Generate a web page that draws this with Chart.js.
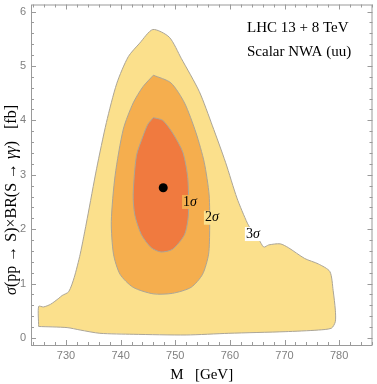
<!DOCTYPE html>
<html>
<head>
<meta charset="utf-8">
<script src="https://cdn.jsdelivr.net/npm/chart.js@4.4.1/dist/chart.umd.min.js"></script>
<style>
  html, body { margin: 0; padding: 0; background: #fff; }
</style>
</head>
<body>
<canvas id="chart" width="377" height="384"></canvas>
<script>
// 3 sigma contour (outer)
const outerM = [725, 725, 725.9, 727.2, 728.7, 729.3, 730.5, 731.5, 732.6, 733.9, 735.6, 737.4, 739.3, 741.4, 743.5, 745.9, 748.9, 751.1, 754.4, 756.8, 759.2, 761.3, 763.2, 764.1, 765.3, 766.2, 767.1, 769.2, 770.7, 773.7, 776.2, 778.3, 778.9, 779.3, 779.3, 778.6, 776.2, 770.1, 759.8, 752, 742.3, 736.2, 732.6, 730.2, 725];
const outerS = [0.21, 0.58, 0.57, 0.62, 0.73, 0.78, 0.85, 1.11, 1.54, 2.20, 3.11, 3.96, 4.68, 5.17, 5.42, 5.67, 5.53, 5.14, 4.53, 3.90, 3.23, 2.57, 2.11, 1.96, 1.81, 1.67, 1.71, 1.73, 1.66, 1.46, 1.36, 1.22, 0.87, 0.51, 0.30, 0.18, 0.145, 0.115, 0.085, 0.054, 0.067, 0.085, 0.145, 0.19, 0.21];

// 2 sigma contour
const twoM = [746, 749.2, 751.7, 753.8, 755.3, 756.2, 756.3, 756.1, 755, 752.9, 749.5, 746, 742.3, 739.9, 738.7, 738.3, 739, 740.5, 742.3, 744.1, 746];
const twoS = [4.83, 4.69, 4.32, 3.77, 3.23, 2.63, 2.02, 1.54, 1.17, 0.93, 0.82, 0.81, 0.93, 1.17, 1.54, 2.14, 2.99, 3.84, 4.32, 4.62, 4.83];

// 1 sigma contour
const oneM = [746, 747.7, 749.5, 751.4, 752.3, 752.4, 751.7, 749.5, 747.4, 745.6, 743.8, 742.6, 742.3, 742.9, 744.1, 745, 746];
const oneS = [4.05, 4.0, 3.77, 3.41, 2.93, 2.26, 1.90, 1.63, 1.58, 1.66, 1.90, 2.26, 2.63, 3.35, 3.71, 3.93, 4.05];

// best fit point
const bestM = [747.8];
const bestS = [2.76];

// contour labels
const labelText = ['1', '2', '3'];
const labelM = [752.7, 756.7, 764.2];
const labelS = [2.50, 2.21, 1.91];

const xTicks = [730, 740, 750, 760, 770, 780];
const yTicks = [0, 1, 2, 3, 4, 5, 6];

const COL_OUTER = '#FBE08C';
const COL_TWO = '#F5AE4E';
const COL_ONE = '#F07A3F';
const COL_EDGE = '#ABA597';
const labelBg = [COL_TWO, COL_OUTER, '#ffffff'];

const toXY = (ms, ss) => ms.map((m, i) => ({ x: m, y: ss[i] }));

function contour(data, color, order) {
  return {
    data: data,
    showLine: true,
    fill: 'shape',
    backgroundColor: color,
    borderColor: COL_EDGE,
    borderWidth: 1,
    tension: 0.25,
    pointRadius: 0,
    order: order
  };
}

// Frame with inward ticks on all four sides (Mathematica style)
const framePlugin = {
  id: 'frame',
  afterDatasetsDraw(chart) {
    const { ctx, chartArea: a, scales: { x, y } } = chart;
    ctx.save();
    ctx.strokeStyle = '#9a9a9a';
    ctx.lineWidth = 1;
    ctx.beginPath();
    for (let v = 724; v <= 786; v += 2) {
      const px = Math.round(x.getPixelForValue(v)) + 0.5;
      const len = v % 10 === 0 ? 5 : 3;
      ctx.moveTo(px, a.bottom); ctx.lineTo(px, a.bottom - len);
      ctx.moveTo(px, a.top); ctx.lineTo(px, a.top + len);
    }
    for (let i = 0; i <= 30; i++) {
      const v = i / 5;
      const py = Math.round(y.getPixelForValue(v)) + 0.5;
      const len = i % 5 === 0 ? 5 : 3;
      ctx.moveTo(a.left, py); ctx.lineTo(a.left + len, py);
      ctx.moveTo(a.right, py); ctx.lineTo(a.right - len, py);
    }
    ctx.stroke();
    ctx.strokeRect(a.left + 0.5, a.top + 0.5, a.right - a.left - 1, a.bottom - a.top);
    ctx.restore();
  }
};

// Contour labels, annotation text and y axis title
const textPlugin = {
  id: 'texts',
  afterDatasetsDraw(chart) {
    const { ctx, scales: { x, y } } = chart;
    ctx.save();
    ctx.textBaseline = 'middle';
    const serif = '"Liberation Serif", "DejaVu Serif", serif';

    labelText.forEach((t, i) => {
      const cx = x.getPixelForValue(labelM[i]);
      const cy = y.getPixelForValue(labelS[i]);
      ctx.font = '14px ' + serif;
      const w1 = ctx.measureText(t).width;
      ctx.font = 'italic 14px ' + serif;
      const w2 = ctx.measureText('σ').width;
      const w = w1 + w2;
      ctx.fillStyle = labelBg[i];
      ctx.fillRect(cx - w / 2 - 1, cy - 7, w + 2, 14);
      ctx.fillStyle = '#000';
      ctx.textAlign = 'left';
      ctx.font = '14px ' + serif;
      ctx.fillText(t, cx - w / 2, cy);
      ctx.font = 'italic 14px ' + serif;
      ctx.fillText('σ', cx - w / 2 + w1, cy);
    });

    ctx.fillStyle = '#000';
    ctx.font = '15px ' + serif;
    ctx.textAlign = 'left';
    ctx.fillText('LHC 13 + 8 TeV', 247, 28);
    ctx.fillText('Scalar NWA (uu)', 247, 52);

    // y axis title with italic symbols
    const parts = [['σ', true], ['(pp → S)×BR(S → ', false], ['γγ', true], [')   [fb]', false]];
    const widths = parts.map(([s, it]) => {
      ctx.font = (it ? 'italic ' : '') + '16px ' + serif;
      return ctx.measureText(s).width;
    });
    const total = widths.reduce((a, b) => a + b, 0);
    ctx.translate(12, 200);
    ctx.rotate(-Math.PI / 2);
    let pos = -total / 2;
    parts.forEach(([s, it], i) => {
      ctx.font = (it ? 'italic ' : '') + '16px ' + serif;
      ctx.fillText(s, pos, 0);
      pos += widths[i];
    });
    ctx.restore();
  }
};

new Chart(document.getElementById('chart'), {
  type: 'scatter',
  data: {
    datasets: [
      {
        data: toXY(bestM, bestS),
        pointRadius: 4.5,
        pointBackgroundColor: '#000',
        pointBorderWidth: 0,
        showLine: false,
        order: 0
      },
      contour(toXY(oneM, oneS), COL_ONE, 1),
      contour(toXY(twoM, twoS), COL_TWO, 2),
      contour(toXY(outerM, outerS), COL_OUTER, 3)
    ]
  },
  options: {
    responsive: false,
    animation: false,
    layout: { padding: { top: 1, right: 2, left: 0, bottom: 0 } },
    plugins: {
      legend: { display: false },
      tooltip: { enabled: false }
    },
    scales: {
      x: {
        type: 'linear',
        min: 723.6,
        max: 786.1,
        grid: { display: false, drawTicks: false },
        border: { display: false },
        afterBuildTicks: (s) => { s.ticks = xTicks.map(v => ({ value: v })); },
        ticks: {
          color: '#808080',
          padding: 4,
          maxRotation: 0,
          font: { family: '"Liberation Sans", Arial, sans-serif', size: 11 }
        },
        title: {
          display: true,
          text: 'M   [GeV]',
          color: '#000',
          padding: { top: 0, bottom: 0 },
          font: { family: '"Liberation Serif", serif', size: 15 }
        },
        afterFit: (s) => { s.height = 39; s.paddingLeft = 0; s.paddingRight = 0; }
      },
      y: {
        type: 'linear',
        min: -0.13,
        max: 6.13,
        grid: { display: false, drawTicks: false },
        border: { display: false },
        afterBuildTicks: (s) => { s.ticks = yTicks.map(v => ({ value: v })); },
        ticks: {
          color: '#808080',
          padding: 5,
          font: { family: '"Liberation Sans", Arial, sans-serif', size: 11 }
        },
        afterFit: (s) => { s.width = 31; s.paddingTop = 0; s.paddingBottom = 0; }
      }
    }
  },
  plugins: [framePlugin, textPlugin]
});
</script>
</body>
</html>
